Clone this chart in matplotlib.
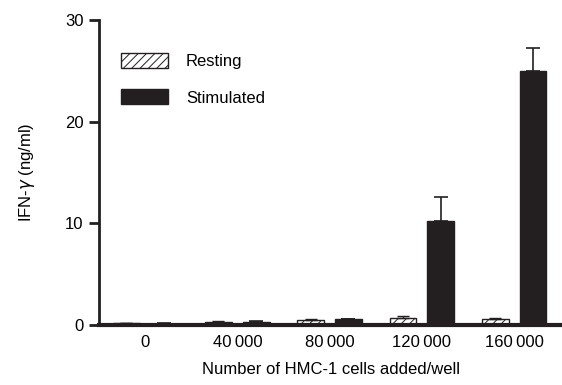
import numpy as np
import matplotlib
matplotlib.use("Agg")
import matplotlib.pyplot as plt

plt.rcParams["font.family"] = ["Liberation Sans", "DejaVu Sans"]
plt.rcParams["hatch.linewidth"] = 0.7

# data
cells = ["0", "40\u2009000", "80\u2009000", "120\u2009000", "160\u2009000"]
resting = [0.15, 0.3, 0.5, 0.7, 0.55]
resting_err = [0.05, 0.08, 0.08, 0.15, 0.1]
stimulated = [0.12, 0.3, 0.55, 10.2, 25.0]
stimulated_err = [0.05, 0.08, 0.08, 2.4, 2.2]

x = np.arange(len(cells))
offset = 0.205
width = 0.29
dark = "#231f20"
fs = 12

fig = plt.figure(figsize=(5.62, 3.85), dpi=100)
ax = fig.add_axes([99 / 562, 60 / 385, 463 / 562, 305 / 385])

ax.bar(x - offset, resting, width, color="white", edgecolor=dark, hatch="////",
       linewidth=1.0, label="Resting",
       yerr=[np.zeros(len(resting)), resting_err], capsize=4,
       error_kw=dict(ecolor=dark, elinewidth=1.0, capthick=1.0))
ax.bar(x + offset, stimulated, width, color=dark, edgecolor=dark,
       linewidth=1.0, label="Stimulated",
       yerr=[np.zeros(len(stimulated)), stimulated_err], capsize=5,
       error_kw=dict(ecolor=dark, elinewidth=1.2, capthick=1.2))

ax.set_xlim(-0.5, 4.52)
ax.set_ylim(0, 30)
ax.set_yticks([0, 10, 20, 30])
ax.set_xticks(x)
ax.set_xticklabels(cells)
ax.tick_params(axis="x", length=0, pad=7, labelsize=fs)
ax.tick_params(axis="y", length=7, width=2, direction="out", pad=4, labelsize=fs,
               color=dark)

for side in ["top", "right"]:
    ax.spines[side].set_visible(False)
ax.spines["left"].set_linewidth(2)
ax.spines["bottom"].set_linewidth(3)
ax.spines["left"].set_color(dark)
ax.spines["bottom"].set_color(dark)

ax.set_ylabel("IFN-$\\gamma$ (ng/ml)", fontsize=fs, labelpad=20)
ax.set_xlabel("Number of HMC-1 cells added/well", fontsize=fs, labelpad=9)

ax.legend(loc="upper left", bbox_to_anchor=(0.015, 0.94), frameon=False,
          handlelength=2.8, handleheight=1.0, handletextpad=1.1,
          labelspacing=1.2, fontsize=fs)

fig.savefig("out.png", dpi=100)
